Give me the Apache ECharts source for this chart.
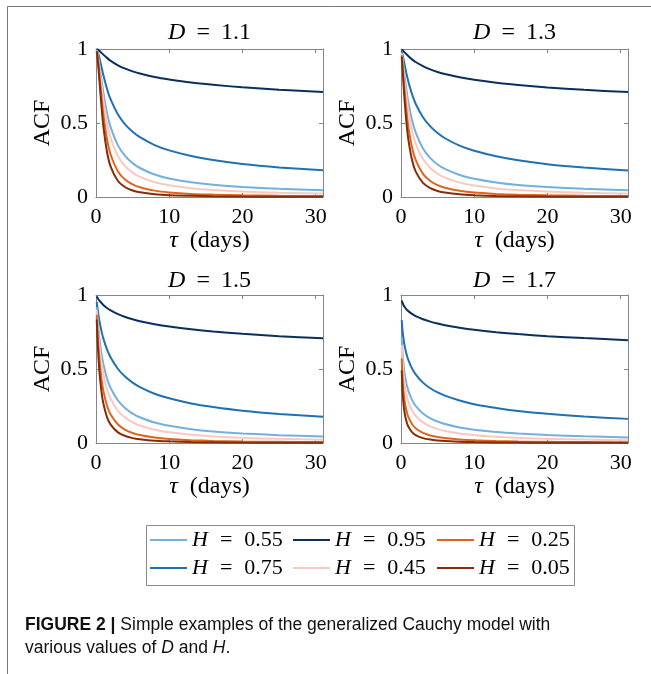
<!DOCTYPE html>
<html>
<head>
<meta charset="utf-8">
<title>Cauchy ACF</title>
<script src="https://cdn.jsdelivr.net/npm/echarts@6/dist/echarts.min.js"></script>
</head>
<body style="margin:0;background:#fff">
<div id="main" style="width:651px;height:674px"></div>
<script>
// lag (days) at which the curves were read
var tau = [0.1, 0.2, 0.35, 0.5, 0.75, 1, 1.5, 2, 3, 4, 5, 6, 8, 10, 13, 16, 20, 25, 31];

var hNames = ['H = 0.95', 'H = 0.75', 'H = 0.55', 'H = 0.45', 'H = 0.25', 'H = 0.05'];
var hColors = ['#0a2f5c', '#1f71b1', '#72b0df', '#f9c9bf', '#e0651c', '#862c08'];
var dLabels = ['1.1', '1.3', '1.5', '1.7'];
var xTicks = [0, 10, 20, 30];
var yTicks = [0, 0.5, 1];

// D = 1.1
var d11h95 = [0.999,0.997,0.992,0.986,0.974,0.962,0.940,0.920,0.890,0.867,0.849,0.834,0.811,0.794,0.773,0.758,0.741,0.725,0.709];
var d11h75 = [0.996,0.985,0.962,0.932,0.878,0.825,0.732,0.659,0.557,0.489,0.441,0.404,0.351,0.315,0.277,0.250,0.223,0.200,0.180];
var d11h55 = [0.992,0.973,0.932,0.881,0.792,0.707,0.570,0.472,0.349,0.276,0.229,0.196,0.152,0.125,0.099,0.082,0.067,0.055,0.045];
var d11h45 = [0.990,0.968,0.918,0.857,0.752,0.655,0.503,0.400,0.276,0.207,0.165,0.136,0.100,0.079,0.059,0.047,0.037,0.029,0.023];
var d11h25 = [0.987,0.956,0.889,0.810,0.677,0.561,0.392,0.287,0.173,0.117,0.086,0.066,0.043,0.031,0.021,0.016,0.011,0.008,0.006];
var d11h05 = [0.984,0.945,0.862,0.766,0.611,0.481,0.306,0.205,0.108,0.066,0.044,0.032,0.019,0.012,0.008,0.005,0.003,0.002,0.002];
// D = 1.3
var d13h95 = [0.997,0.993,0.985,0.977,0.964,0.952,0.930,0.912,0.884,0.862,0.845,0.831,0.809,0.792,0.772,0.757,0.740,0.724,0.709];
var d13h75 = [0.986,0.965,0.929,0.892,0.833,0.781,0.696,0.630,0.539,0.477,0.432,0.397,0.347,0.312,0.275,0.248,0.222,0.199,0.179];
var d13h55 = [0.975,0.938,0.875,0.813,0.720,0.640,0.520,0.436,0.328,0.263,0.220,0.190,0.149,0.123,0.098,0.081,0.067,0.055,0.045];
var d13h45 = [0.970,0.925,0.850,0.777,0.669,0.580,0.450,0.362,0.256,0.196,0.157,0.131,0.097,0.077,0.058,0.047,0.037,0.029,0.023];
var d13h25 = [0.959,0.899,0.801,0.709,0.578,0.476,0.336,0.251,0.156,0.108,0.080,0.063,0.042,0.030,0.021,0.015,0.011,0.008,0.006];
var d13h05 = [0.948,0.873,0.755,0.647,0.499,0.390,0.252,0.173,0.095,0.060,0.041,0.030,0.018,0.012,0.007,0.005,0.003,0.002,0.002];
// D = 1.5
var d15h95 = [0.990,0.982,0.970,0.960,0.946,0.933,0.912,0.896,0.871,0.851,0.836,0.823,0.803,0.787,0.768,0.753,0.738,0.722,0.707];
var d15h75 = [0.953,0.913,0.861,0.816,0.756,0.707,0.632,0.577,0.500,0.447,0.408,0.378,0.333,0.302,0.267,0.243,0.218,0.196,0.177];
var d15h55 = [0.918,0.849,0.763,0.694,0.604,0.536,0.438,0.372,0.287,0.235,0.199,0.174,0.138,0.116,0.093,0.078,0.065,0.053,0.044];
var d15h45 = [0.900,0.818,0.719,0.640,0.540,0.467,0.365,0.299,0.218,0.170,0.139,0.118,0.089,0.072,0.055,0.044,0.035,0.028,0.022];
var d15h25 = [0.867,0.761,0.638,0.544,0.432,0.354,0.253,0.192,0.125,0.089,0.068,0.054,0.037,0.027,0.019,0.014,0.010,0.008,0.006];
var d15h05 = [0.834,0.707,0.565,0.463,0.345,0.268,0.175,0.124,0.072,0.047,0.033,0.025,0.015,0.011,0.007,0.005,0.003,0.002,0.001];
// D = 1.7
var d17h95 = [0.963,0.948,0.931,0.919,0.903,0.891,0.872,0.857,0.836,0.820,0.807,0.796,0.779,0.765,0.749,0.736,0.722,0.709,0.695];
var d17h75 = [0.830,0.764,0.701,0.656,0.601,0.561,0.504,0.464,0.408,0.370,0.342,0.320,0.287,0.262,0.236,0.216,0.197,0.179,0.163];
var d17h55 = [0.714,0.616,0.527,0.468,0.400,0.354,0.291,0.251,0.199,0.167,0.145,0.128,0.105,0.090,0.074,0.064,0.054,0.045,0.038];
var d17h45 = [0.663,0.554,0.457,0.395,0.326,0.281,0.221,0.184,0.139,0.112,0.094,0.081,0.064,0.053,0.042,0.035,0.028,0.023,0.018];
var d17h25 = [0.571,0.446,0.344,0.282,0.217,0.177,0.128,0.100,0.068,0.051,0.040,0.033,0.024,0.018,0.013,0.010,0.008,0.006,0.004];
var d17h05 = [0.492,0.360,0.259,0.201,0.145,0.111,0.074,0.054,0.033,0.023,0.017,0.013,0.009,0.006,0.004,0.003,0.002,0.001,0.001];

var panelData = [
	[d11h95, d11h75, d11h55, d11h45, d11h25, d11h05],
	[d13h95, d13h75, d13h55, d13h45, d13h25, d13h05],
	[d15h95, d15h75, d15h55, d15h45, d15h25, d15h05],
	[d17h95, d17h75, d17h55, d17h45, d17h25, d17h05]
];

var serif = '"Liberation Serif", "Times New Roman", serif';
var axisGray = '#858585';
var gridLeft = [96, 401, 96, 401];
var gridTop = [49, 49, 295, 295];
var titleY = [33, 33, 281, 281];
var gridW = 227, gridH = 148;

function mathRich(size, pad) {
	return {
		i: {fontFamily: serif, fontSize: size, fontStyle: 'italic', color: '#000'},
		e: {fontFamily: serif, fontSize: size, color: '#000', padding: [0, pad, 0, pad]}
	};
}

var grids = [], xAxes = [], yAxes = [], series = [], graphics = [];

for (var p = 0; p < 4; p++) {
	grids.push({left: gridLeft[p], top: gridTop[p], width: gridW, height: gridH});
	// bottom / left axes carry the labels, top / right only close the box
	xAxes.push({
		type: 'value', gridIndex: p, min: 0, max: 31, interval: 10, position: 'bottom',
		name: '{i|τ}  (days)', nameLocation: 'middle', nameGap: 32,
		nameTextStyle: {fontFamily: serif, fontSize: 24, color: '#000', rich: mathRich(24, 3)},
		axisLine: {show: true, onZero: false, lineStyle: {color: axisGray, width: 1}},
		axisTick: {show: true, inside: true, length: 4, lineStyle: {color: axisGray}},
		axisLabel: {margin: 9, fontFamily: serif, fontSize: 22, color: '#000',
			formatter: function (v) { return xTicks.indexOf(v) >= 0 ? String(v) : ''; }},
		splitLine: {show: false}
	});
	xAxes.push({
		type: 'value', gridIndex: p, min: 0, max: 31, interval: 10, position: 'top',
		axisLine: {show: true, onZero: false, lineStyle: {color: axisGray, width: 1}},
		axisTick: {show: true, inside: true, length: 4, lineStyle: {color: axisGray}},
		axisLabel: {show: false}, splitLine: {show: false}
	});
	yAxes.push({
		type: 'value', gridIndex: p, min: 0, max: 1, interval: 0.5, position: 'left',
		name: 'ACF', nameLocation: 'middle', nameGap: 41,
		nameTextStyle: {fontFamily: serif, fontSize: 24, color: '#000'},
		axisLine: {show: true, onZero: false, lineStyle: {color: axisGray, width: 1}},
		axisTick: {show: true, inside: true, length: 4, lineStyle: {color: axisGray}},
		axisLabel: {margin: 8, fontFamily: serif, fontSize: 22, color: '#000',
			formatter: function (v) { return yTicks.indexOf(v) >= 0 ? String(v) : ''; }},
		splitLine: {show: false}
	});
	yAxes.push({
		type: 'value', gridIndex: p, min: 0, max: 1, interval: 0.5, position: 'right',
		axisLine: {show: true, onZero: false, lineStyle: {color: axisGray, width: 1}},
		axisTick: {show: true, inside: true, length: 4, lineStyle: {color: axisGray}},
		axisLabel: {show: false}, splitLine: {show: false}
	});

	for (var h = 0; h < hNames.length; h++) {
		var pts = [];
		for (var k = 0; k < tau.length; k++) pts.push([tau[k], panelData[p][h][k]]);
		series.push({
			name: hNames[h], type: 'line', xAxisIndex: p * 2, yAxisIndex: p * 2,
			data: pts, symbol: 'none', smooth: 0.25,
			color: hColors[h], itemStyle: {color: hColors[h]},
			lineStyle: {color: hColors[h], width: 2}, silent: true, animation: false
		});
	}

	graphics.push({
		type: 'text', x: gridLeft[p] + gridW / 2, y: titleY[p],
		style: {text: '{i|D}{e|=}' + dLabels[p], rich: mathRich(24, 11), fontFamily: serif, fontSize: 24,
			fill: '#000', align: 'center', verticalAlign: 'middle'}
	});
}

// legend: 3 columns x 2 rows inside one box
var legendOrder = ['H = 0.55', 'H = 0.95', 'H = 0.25', 'H = 0.75', 'H = 0.45', 'H = 0.05'];
var legendX = [150, 293, 437];
var legendY = [529, 557];
var legends = [];
for (var j = 0; j < legendOrder.length; j++) {
	legends.push({
		data: [legendOrder[j]], left: legendX[j % 3], top: legendY[Math.floor(j / 3)],
		icon: 'rect', itemWidth: 37, itemHeight: 2, itemGap: 0, padding: 0,
		selectedMode: false,
		formatter: function (n) { return '{i|H}{e|=}' + n.split('= ')[1]; },
		textStyle: {fontFamily: serif, fontSize: 22, color: '#000', rich: mathRich(22, 12)}
	});
}

graphics.push({type: 'rect', shape: {x: 146.5, y: 525.5, width: 428, height: 60},
	style: {fill: 'none', stroke: '#8a8a8a', lineWidth: 1}});
graphics.push({type: 'rect', shape: {x: 7.5, y: 6.5, width: 700, height: 700},
	style: {fill: 'none', stroke: '#777', lineWidth: 1}});

var sans = '"Liberation Sans", Arial, Helvetica, sans-serif';
graphics.push({type: 'text', x: 25, y: 625,
	style: {text: '{b|FIGURE 2 |} Simple examples of the generalized Cauchy model with',
		rich: {b: {fontFamily: sans, fontSize: 17.5, fontWeight: 'bold', color: '#111'}},
		fontFamily: sans, fontSize: 17.5, fill: '#111', verticalAlign: 'middle'}});
graphics.push({type: 'text', x: 25, y: 648,
	style: {text: 'various values of {i|D} and {i|H}.',
		rich: {i: {fontFamily: sans, fontSize: 17.5, fontStyle: 'italic', color: '#111'}},
		fontFamily: sans, fontSize: 17.5, fill: '#111', verticalAlign: 'middle'}});

var chart = echarts.init(document.getElementById('main'));
chart.setOption({
	backgroundColor: '#fff',
	animation: false,
	grid: grids,
	xAxis: xAxes,
	yAxis: yAxes,
	legend: legends,
	series: series,
	graphic: graphics
});
</script>
</body>
</html>
